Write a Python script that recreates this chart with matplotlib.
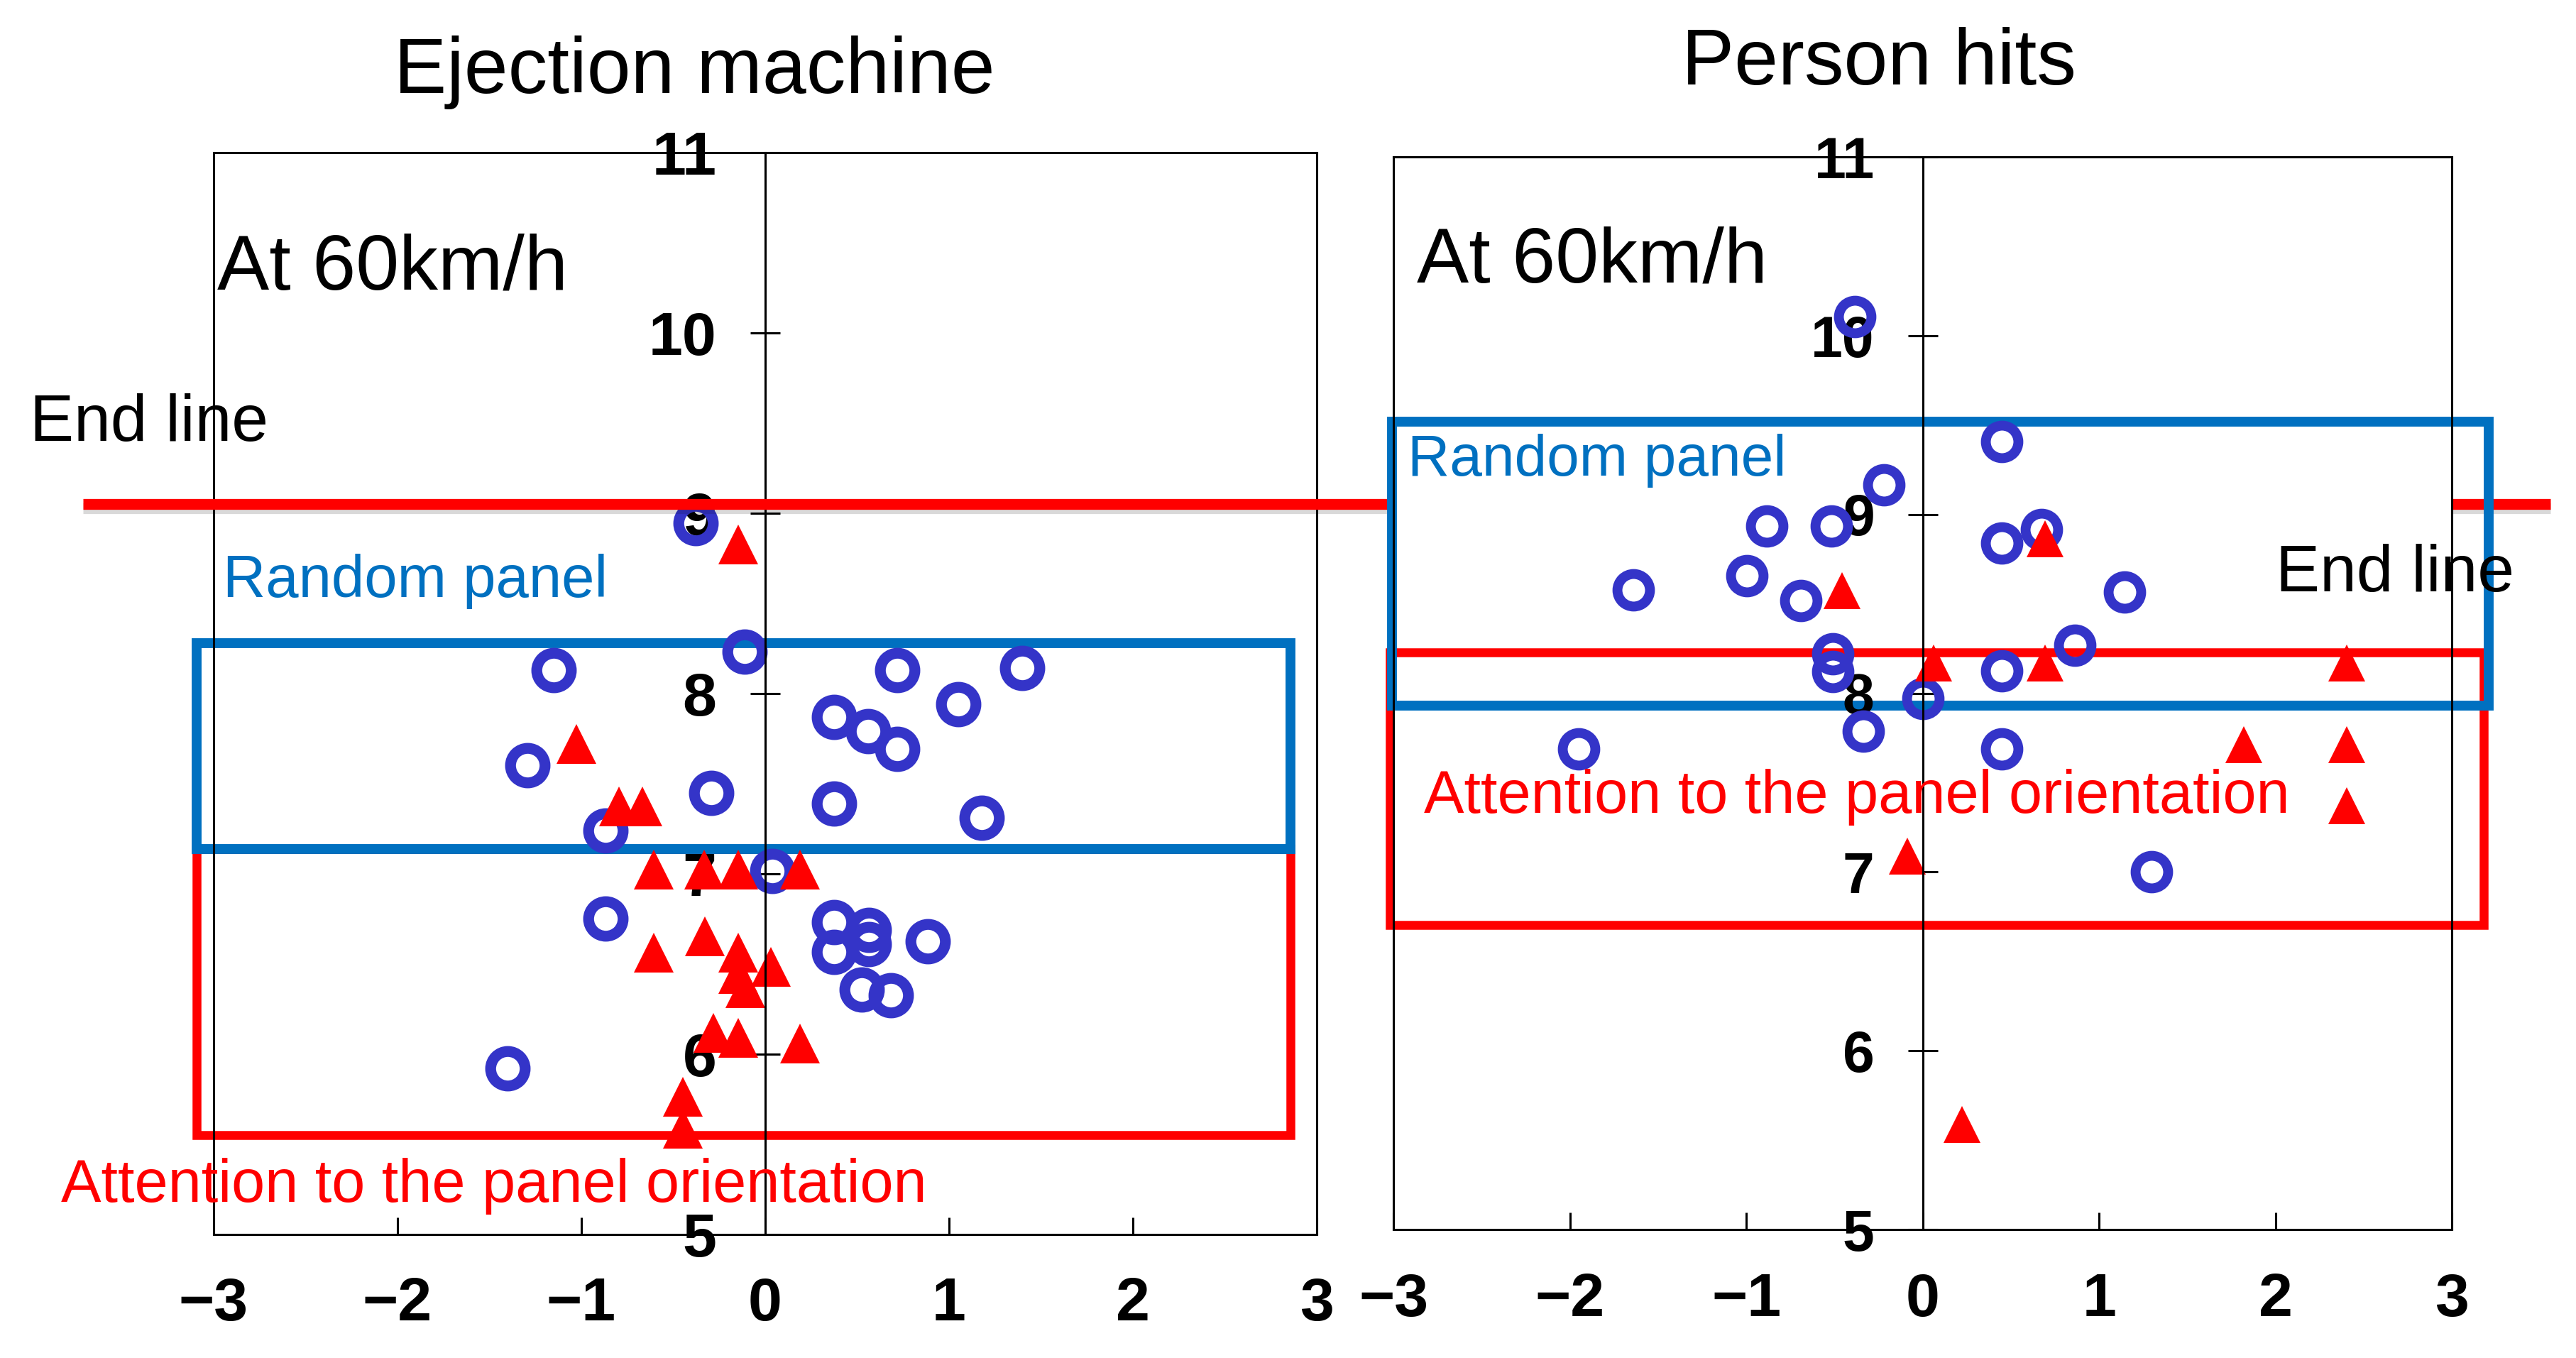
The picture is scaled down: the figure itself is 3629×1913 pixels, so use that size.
import matplotlib.pyplot as plt
import matplotlib.patheffects as pe
from matplotlib.patches import Rectangle

plt.rcParams['font.family'] = ['Liberation Sans', 'DejaVu Sans']

# ---- data ----
x_ticks = [-3, -2, -1, 0, 1, 2, 3]
y_ticks = [5, 6, 7, 8, 9, 10, 11]

# Ejection machine
eject_circle_x = [-1.15, -0.11, 0.72, 1.40, 1.05, 0.375, 0.56, 0.72, -1.29, -0.29, 0.375, 1.18,
                  -0.867, 0.04, -0.867, 0.377, 0.564, 0.377, 0.564, 0.886, 0.525, 0.686, -1.40, -0.375]
eject_circle_y = [8.13, 8.23, 8.13, 8.14, 7.94, 7.87, 7.79, 7.69, 7.60, 7.447, 7.387, 7.31,
                  7.24, 7.013, 6.75, 6.73, 6.687, 6.565, 6.61, 6.626, 6.355, 6.325, 5.92, 8.945]
eject_tri_x = [-0.145, -1.025, -0.794, -0.665, -0.604, -0.33, -0.144, 0.19, -0.604, -0.325,
               -0.144, 0.034, -0.144, -0.106, -0.28, -0.144, 0.19, -0.447, -0.447]
eject_tri_y = [8.826, 7.72, 7.372, 7.372, 7.022, 7.022, 7.022, 7.022, 6.563, 6.653,
               6.563, 6.484, 6.442, 6.366, 6.118, 6.091, 6.056, 5.764, 5.583]

# Person hits
person_circle_x = [-0.386, 0.45, -0.222, -0.884, -0.519, 0.674, 0.45, -0.998, -1.643, -0.692,
                   1.145, 0.861, -0.51, -0.51, 0.45, 0.0, -1.95, -0.336, 0.45, 1.296]
person_circle_y = [10.106, 9.409, 9.168, 8.936, 8.936, 8.915, 8.84, 8.66, 8.578, 8.52,
                   8.568, 8.27, 8.22, 8.12, 8.125, 7.97, 7.69, 7.79, 7.69, 7.0]
person_tri_x = [0.692, -0.459, 0.062, 0.692, 2.406, 1.821, 2.406, 2.406, -0.089, 0.221]
person_tri_y = [8.864, 8.573, 8.171, 8.171, 8.171, 7.714, 7.714, 7.373, 7.09, 5.587]

# regions (x0, y0, x1, y1)
eject_random_box = (-3.09, 7.136, 2.86, 8.28)
eject_attention_box = (-3.09, 5.55, 2.86, 7.136)
person_random_box = (-3.01, 7.93, 3.21, 9.52)
person_attention_box = (-3.02, 6.705, 3.18, 8.23)
end_line_y = 9.05

CIRCLE_BLUE = '#3434c8'
BOX_BLUE = '#0070c0'
RED = '#ff0000'


def setup_axes(ax, ylab_size):
    ax.set_xlim(-3, 3)
    ax.set_ylim(5, 11)
    ax.spines['left'].set_position(('data', 0))
    for s in ax.spines.values():
        s.set_linewidth(2.2)
    # left frame edge (the left spine is moved to x=0)
    ax.plot([0, 0], [0, 1], transform=ax.transAxes, color='black', lw=2.2, clip_on=False)
    ax.set_xticks(x_ticks)
    ax.set_yticks(y_ticks)
    ax.tick_params(axis='x', direction='in', length=17, width=2.2, pad=43, labelsize=62)
    ax.tick_params(axis='y', direction='inout', length=30, width=2.2, pad=34, labelsize=ylab_size)
    for lab in ax.get_xticklabels() + ax.get_yticklabels():
        lab.set_fontweight('bold')


def add_box(ax, box, color, lw):
    x0, y0, x1, y1 = box
    ax.add_patch(Rectangle((x0, y0), x1 - x0, y1 - y0, fill=False, ec=color, lw=lw,
                           clip_on=False, zorder=1, joinstyle='miter'))


fig = plt.figure(figsize=(36.3, 19.13), dpi=100)
ax1 = fig.add_axes([0.0828, 0.0912, 0.4281, 0.7964])
ax2 = fig.add_axes([0.5409, 0.0946, 0.4106, 0.7897])

setup_axes(ax1, 62)
setup_axes(ax2, 58)

# boxes
add_box(ax1, eject_attention_box, RED, 9)
add_box(ax1, eject_random_box, BOX_BLUE, 10)
add_box(ax2, person_attention_box, RED, 9)
add_box(ax2, person_random_box, BOX_BLUE, 10)

# points
ax1.plot(eject_circle_x, eject_circle_y, 'o', ms=35, mfc='none', mec=CIRCLE_BLUE, mew=11, clip_on=False)
ax1.plot(eject_tri_x, eject_tri_y, '^', ms=40, color=RED, mew=0, clip_on=False)
ax2.plot(person_circle_x, person_circle_y, 'o', ms=33, mfc='none', mec=CIRCLE_BLUE, mew=10, clip_on=False)
ax2.plot(person_tri_x, person_tri_y, '^', ms=38, color=RED, mew=0, clip_on=False)

# end line across both panels
ax1.plot([-0.118, 2.119], [end_line_y, end_line_y], transform=ax1.get_yaxis_transform(),
         color=RED, lw=11, clip_on=False, zorder=3, solid_capstyle='butt',
         path_effects=[pe.SimpleLineShadow(offset=(0, -4), alpha=0.15), pe.Normal()])

# texts - left
ax1.text(0.436, 1.055, 'Ejection machine', transform=ax1.transAxes, ha='center',
         va='baseline', fontsize=80)
ax1.text(-2.98, 10.24, 'At 60km/h', fontsize=79, ha='left', va='baseline')
ax1.text(-4.0, 9.40, 'End line', fontsize=67, ha='left', va='baseline', clip_on=False)
ax1.text(-2.95, 8.535, 'Random panel', fontsize=60, color=BOX_BLUE, ha='left', va='baseline')
ax1.text(-3.83, 5.18, 'Attention to the panel orientation', fontsize=61, color=RED,
         ha='left', va='baseline', clip_on=False)

# texts - right
ax2.text(0.4586, 1.068, 'Person hits', transform=ax2.transAxes, ha='center',
         va='baseline', fontsize=80)
ax2.text(-2.87, 10.30, 'At 60km/h', fontsize=79, ha='left', va='baseline')
ax2.text(-2.92, 9.22, 'Random panel', fontsize=59, color=BOX_BLUE, ha='left', va='baseline')
ax2.text(2.00, 8.57, 'End line', fontsize=67, ha='left', va='baseline', clip_on=False)
ax2.text(-2.83, 7.33, 'Attention to the panel orientation', fontsize=61, color=RED,
         ha='left', va='baseline')

fig.savefig('out.png', dpi=100)
